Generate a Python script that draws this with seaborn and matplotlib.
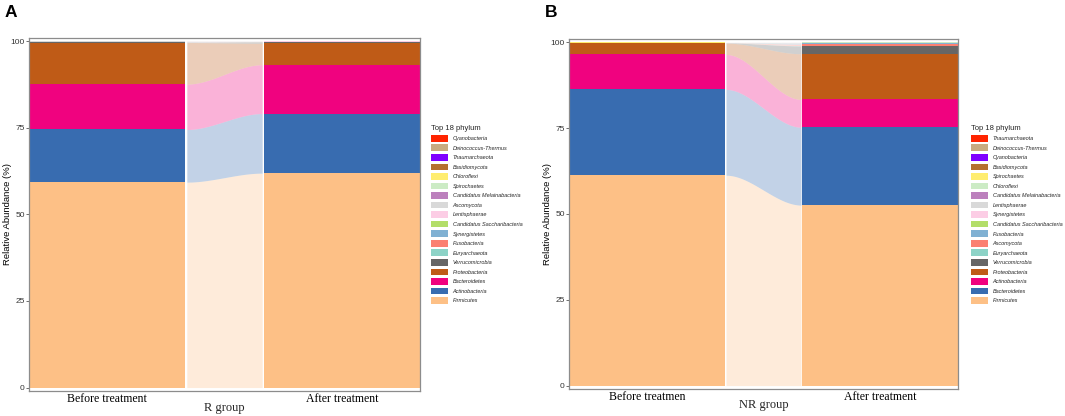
import numpy as np
import pandas as pd
import matplotlib
matplotlib.use("Agg")
import matplotlib.pyplot as plt
import seaborn as sns
from matplotlib.patches import Patch
from matplotlib.font_manager import FontProperties

# ---------------- data ----------------
colors = ["#FF2400", "#C9AB80", "#8000FF", "#B5702F", "#FFED6F", "#CCEBC5",
          "#BC80BD", "#D9D9D9", "#FCCDE5", "#B3DE69", "#80B1D3", "#FB8072",
          "#8DD3C7", "#666666", "#BF5B17", "#F0027F", "#386CB0", "#FDC086"]

phyla_A = ["Cyanobacteria", "Deinococcus-Thermus", "Thaumarchaeota", "Basidiomycota",
           "Chloroflexi", "Spirochaetes", "Candidatus Melainabacteria", "Ascomycota",
           "Lentisphaerae", "Candidatus Saccharibacteria", "Synergistetes", "Fusobacteria",
           "Euryarchaeota", "Verrucomicrobia", "Proteobacteria", "Bacteroidetes",
           "Actinobacteria", "Firmicutes"]
before_A = [0.005, 0.005, 0.005, 0.01, 0.01, 0.01, 0.03, 0.03, 0.08, 0.02, 0.03, 0.03,
            0.02, 0.12, 12.0, 13.1, 15.2, 59.3]
after_A = [0.003, 0.003, 0.003, 0.005, 0.01, 0.01, 0.02, 0.03, 0.03, 0.02, 0.02, 0.03,
           0.02, 0.4, 6.2, 14.1, 17.2, 61.9]
labels_A = ["Before treatment", "After treatment"]
group_A = "R group"

phyla_B = ["Thaumarchaeota", "Deinococcus-Thermus", "Cyanobacteria", "Basidiomycota",
           "Spirochaetes", "Chloroflexi", "Candidatus Melainabacteria", "Lentisphaerae",
           "Synergistetes", "Candidatus Saccharibacteria", "Fusobacteria", "Ascomycota",
           "Euryarchaeota", "Verrucomicrobia", "Proteobacteria", "Actinobacteria",
           "Bacteroidetes", "Firmicutes"]
before_B = [0.003, 0.003, 0.003, 0.005, 0.01, 0.01, 0.01, 0.02, 0.02, 0.01, 0.02, 0.02,
            0.02, 0.05, 3.3, 10.2, 25.0, 61.3]
after_B = [0.003, 0.003, 0.003, 0.005, 0.01, 0.01, 0.03, 0.05, 0.05, 0.05, 0.3, 0.4,
           0.1, 2.3, 13.3, 8.1, 22.7, 52.6]
labels_B = ["Before treatmen", "After treatment"]
group_B = "NR group"

# ---------------- style ----------------
sns.set_theme(style="white")
plt.rcParams["font.family"] = ["Liberation Sans", "DejaVu Sans"]

SERIF = "Liberation Serif"
W = 2 / 3  # bar width
fig = plt.figure(figsize=(10.65, 4.16), dpi=100)

def draw_panel(rect, phyla, before, after, ticklabels, group, letter, letter_x, leg_x):
    ax = fig.add_axes(rect)
    df = pd.DataFrame({
        "time": [ticklabels[0]] * len(phyla) + [ticklabels[1]] * len(phyla),
        "phylum": phyla * 2,
        "value": before + after,
    })
    pal = dict(zip(phyla, colors))
    sns.histplot(data=df, x="time", weights="value", hue="phylum", hue_order=phyla,
                 palette=pal, multiple="stack", discrete=True, shrink=W, alpha=1,
                 linewidth=0, edgecolor="none", legend=False, ax=ax)
    # alluvial flows between the two bars
    b = np.array(before[::-1]); a = np.array(after[::-1])
    cb = np.concatenate([[0], np.cumsum(b)]); ca = np.concatenate([[0], np.cumsum(a)])
    gap = 0.006
    x0, x1 = W / 2 + gap, 1 - W / 2 - gap
    xs = np.linspace(x0, x1, 200)
    t = (xs - x0) / (x1 - x0)
    s = 3 * t ** 2 - 2 * t ** 3
    cols_rev = colors[::-1]
    for i in range(len(b)):
        lo = cb[i] + (ca[i] - cb[i]) * s
        hi = cb[i + 1] + (ca[i + 1] - cb[i + 1]) * s
        ax.fill_between(xs, lo, hi, color=cols_rev[i], alpha=0.3, linewidth=0)

    ax.set_xlim(-W / 2, 1 + W / 2)
    ax.set_ylim(-1, 101)
    ax.set_yticks([0, 25, 50, 75, 100])
    ax.set_yticklabels(["0", "25", "50", "75", "100"])
    ax.set_xticks([0, 1])
    ax.set_xticklabels(ticklabels, family=SERIF, fontsize=8.5, color="black")
    ax.tick_params(axis="x", length=0, pad=1.5)
    ax.tick_params(axis="y", length=2, width=0.6, color="#555555", pad=1,
                   labelsize=6, labelcolor="#333333", left=True)
    ax.set_xlabel("")
    ax.set_ylabel("Relative Abundance (%)", fontsize=6.8, color="black")
    ax.yaxis.set_label_coords(-17 / (rect[2] * 1065), 0.5)
    for sp in ax.spines.values():
        sp.set_color("#8C8C8C")
        sp.set_linewidth(0.9)
    ax.text(0.5, -0.047, group, transform=ax.transAxes, ha="center", va="center",
            family=SERIF, fontsize=9)
    fig.text(letter_x, 1 - 5 / 416, letter, ha="left", va="top", fontsize=12.5,
             fontweight="bold", color="black")
    handles = [Patch(facecolor=c, edgecolor="none") for c in colors]
    fig.legend(handles, phyla, title="Top 18 phylum", loc="upper left",
               bbox_to_anchor=(leg_x, 1 - 125 / 416), frameon=False,
               prop=FontProperties(family="Liberation Sans", style="italic", size=4),
               title_fontproperties=FontProperties(family="Liberation Sans", size=5.5),
               handlelength=3.0, handleheight=1.45, labelspacing=0.53,
               handletextpad=0.9, borderpad=0, borderaxespad=0, alignment="left")
    return ax

draw_panel([29 / 1065, 25 / 416, 391 / 1065, 353.3 / 416], phyla_A, before_A, after_A,
           labels_A, group_A, "A", 5 / 1065, 431 / 1065)
draw_panel([569 / 1065, 27 / 416, 389 / 1065, 350 / 416], phyla_B, before_B, after_B,
           labels_B, group_B, "B", 545 / 1065, 971 / 1065)

fig.savefig("out.png", dpi=100)
